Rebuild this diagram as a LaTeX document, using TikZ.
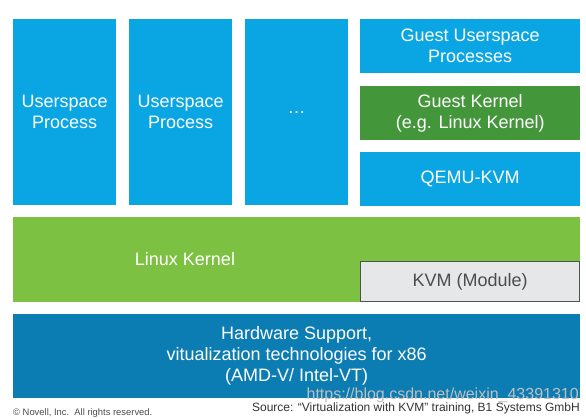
\documentclass[tikz,border=0pt]{standalone}
\usepackage{fontspec}
\setmainfont{Liberation Sans}
\definecolor{procblue}{HTML}{0AA6E4}
\definecolor{guestgreen}{HTML}{43963A}
\definecolor{kernelgreen}{HTML}{7DC142}
\definecolor{hwblue}{HTML}{0C7DB3}
\definecolor{kvmgray}{HTML}{E6E7E8}
\definecolor{kvmline}{HTML}{4B5350}
\tikzset{
  layer/.style={anchor=north west, inner sep=0pt, align=center, text=white,
    font=\fontsize{18}{21}\selectfont},
  foot/.style={inner sep=0pt, text=black!70}
}
\begin{document}
\begin{tikzpicture}[x=1pt,y=-1pt]
\useasboundingbox (0,0) rectangle (586,419);
% processes on the host
\foreach \n/\x/\t in {p1/13/Userspace\\Process, p2/129/Userspace\\Process, p3/245/…}
  {\node[layer, fill=procblue, minimum width=103pt, minimum height=186pt] (\n) at (\x,19) {\t};}
% the guest
\node[layer, fill=procblue, minimum width=220pt, minimum height=54pt] (guser) at (360,19) {Guest Userspace\\Processes};
\node[layer, fill=guestgreen, minimum width=220pt, minimum height=54pt] (gkernel) at (360,86) {Guest Kernel\\(e.g. Linux Kernel)};
\node[layer, fill=procblue, minimum width=220pt, minimum height=54pt] (qemu) at (360,152) {QEMU-KVM};
% host kernel
\node[layer, fill=kernelgreen, minimum width=567pt, minimum height=85pt] (lk) at (13,217) {};
\node[layer, anchor=center] (lklabel) at (185,259) {Linux Kernel};
\node[layer, fill=kvmgray, draw=kvmline, line width=1.3pt, text=black!70,
  minimum width=219pt, minimum height=40pt] (kvm) at (360,261) {KVM (Module)};
% hardware
\node[layer, fill=hwblue, minimum width=567pt, minimum height=84pt] (hw) at (13,314)
  {Hardware Support,\\vitualization technologies for x86\\(AMD-V/ Intel-VT)};
% footer
\node[foot, anchor=east, text=black!25, font=\fontsize{16}{16}\selectfont] (mark) at (579,395) {https://blog.csdn.net/weixin\_43391310};
\node[foot, anchor=east, text=black!80, font=\fontsize{12}{12}\selectfont] (src) at (580,408.5) {Source: “Virtualization with KVM” training, B1 Systems GmbH};
\node[foot, anchor=west, font=\fontsize{9.4}{10}\selectfont] (copy) at (13,413) {©\ Novell, Inc.\ \ All rights reserved.};
\end{tikzpicture}
\end{document}
